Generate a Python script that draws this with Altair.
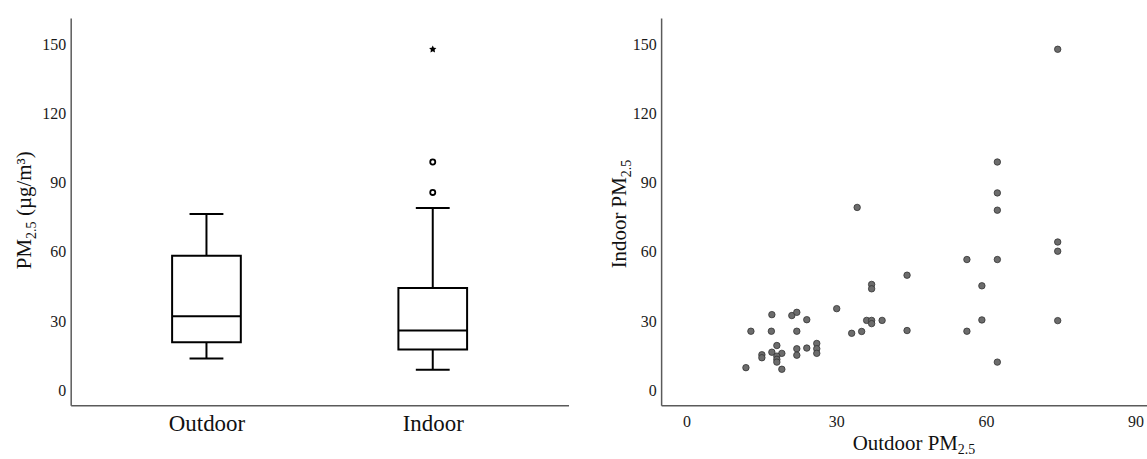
import altair as alt
import pandas as pd

FONT = "Liberation Serif"

# ---- Box plot summary ----
groups = ["Outdoor", "Indoor"]
box_lower = [13.8, 8.9]
box_q1 = [20.8, 17.7]
box_median = [32.1, 25.9]
box_q3 = [58.3, 44.3]
box_upper = [76.5, 79.1]

outlier_group = ["Indoor", "Indoor"]
outlier_value = [85.8, 99.0]
extreme_group = ["Indoor"]
extreme_value = [147.9]

# ---- Scatter: outdoor vs indoor PM2.5 ----
outdoor_pm = [17.1, 21.1, 22.1, 24.1, 12.9, 17.0, 22.1, 18.1, 17.1, 19.1,
              15.1, 15.1, 18.1, 18.1, 18.1, 22.1, 22.1, 24.1, 26.1, 26.1,
              26.1, 11.9, 19.1, 34.2, 44.2, 37.1, 37.1, 30.1, 36.1, 37.1,
              37.1, 39.2, 33.1, 35.1, 44.2, 62.3, 62.3, 62.3, 56.2, 62.3,
              59.2, 59.2, 56.2, 62.3, 74.4, 74.4, 74.4, 74.4]
indoor_pm = [32.8, 32.4, 33.8, 30.6, 25.6, 25.6, 25.6, 19.4, 16.5, 16.0,
             15.4, 14.1, 14.8, 13.4, 12.2, 18.0, 15.2, 18.3, 20.3, 18.0,
             16.0, 9.8, 9.1, 79.3, 49.9, 45.9, 44.0, 35.4, 30.3, 30.3,
             28.9, 30.3, 24.7, 25.5, 25.9, 99.0, 85.6, 78.1, 56.7, 56.7,
             45.3, 30.5, 25.6, 12.2, 147.9, 64.3, 60.3, 30.2]

y_ticks = [0, 30, 60, 90, 120, 150]
x_ticks = [0, 30, 60, 90]

box_df = pd.DataFrame({"group": groups, "lower": box_lower, "q1": box_q1,
                       "median": box_median, "q3": box_q3, "upper": box_upper})
out_df = pd.DataFrame({"group": outlier_group, "value": outlier_value})
ext_df = pd.DataFrame({"group": extreme_group, "value": extreme_value})
sc_df = pd.DataFrame({"outdoor": outdoor_pm, "indoor": indoor_pm})
one = pd.DataFrame({"a": [0]})

W1, W2, H = 500, 488, 389
YDOM = [-6.5, 161.5]

STAR = ("M0,-1L0.29,-0.4L0.95,-0.31L0.48,0.15L0.59,0.81L0,0.5L-0.59,0.81"
        "L-0.48,0.15L-0.95,-0.31L-0.29,-0.4Z")

y_axis = alt.Axis(values=y_ticks, grid=False, ticks=False, title=None,
                  labelFontSize=16, labelPadding=5, labelColor="#1a1a1a",
                  domainColor="#5a5a5a", domainWidth=1.5)
x_cat = alt.X("group:N", sort=groups,
              scale=alt.Scale(type="point", padding=0.6),
              axis=alt.Axis(title=None, labelFontSize=23, ticks=False,
                            labelPadding=7, labelAngle=0, labelColor="#111",
                            domainColor="#5a5a5a", domainWidth=1.5))
yscale = alt.Scale(domain=YDOM, nice=False, zero=False)

whisk_lo = alt.Chart(box_df).mark_rule(color="black", strokeWidth=2).encode(
    x=x_cat, y=alt.Y("lower:Q", scale=yscale, axis=y_axis), y2="q1:Q")
whisk_hi = alt.Chart(box_df).mark_rule(color="black", strokeWidth=2).encode(
    x=x_cat, y=alt.Y("q3:Q", scale=yscale, axis=y_axis), y2="upper:Q")
box = alt.Chart(box_df).mark_bar(size=69, fill="white", stroke="black",
                                 strokeWidth=2).encode(
    x=x_cat, y=alt.Y("q1:Q", scale=yscale, axis=y_axis), y2="q3:Q")
med = alt.Chart(box_df).mark_tick(size=69, thickness=2, color="black",
                                  opacity=1).encode(
    x=x_cat, y=alt.Y("median:Q", scale=yscale, axis=y_axis))
cap_lo = alt.Chart(box_df).mark_tick(size=34, thickness=2, color="black",
                                     opacity=1).encode(
    x=x_cat, y=alt.Y("lower:Q", scale=yscale, axis=y_axis))
cap_hi = alt.Chart(box_df).mark_tick(size=34, thickness=2, color="black",
                                     opacity=1).encode(
    x=x_cat, y=alt.Y("upper:Q", scale=yscale, axis=y_axis))
outl = alt.Chart(out_df).mark_point(shape="circle", filled=False, size=26,
                                    strokeWidth=1.8, color="black",
                                    opacity=1).encode(
    x=x_cat, y=alt.Y("value:Q", scale=yscale, axis=y_axis))
ext = alt.Chart(ext_df).mark_point(shape=STAR, filled=True, size=60,
                                   color="black", opacity=1).encode(
    x=x_cat, y=alt.Y("value:Q", scale=yscale, axis=y_axis))

def txt(s, x, y, size=21, angle=0, align="left", dy=0):
    return alt.Chart(one).mark_text(text=s, font=FONT, fontSize=size,
                                    angle=angle, align=align,
                                    baseline="alphabetic", dy=dy,
                                    color="#111").encode(
        x=alt.value(x), y=alt.value(y))

# left y title: PM_2.5 (µg/m³)
ya = 222
lt = [txt("PM", -40, ya, angle=270, align="right"),
      txt("2.5", -40, ya, size=14, angle=270, align="left", dy=5),
      txt("(µg/m³)", -40, ya - 23, angle=270, align="left")]

left = alt.layer(whisk_lo, whisk_hi, box, med, cap_lo, cap_hi, outl, ext,
                 *lt).properties(width=W1, height=H)

# right panel
xs = alt.X("outdoor:Q", scale=alt.Scale(domain=[-5.1, 92.3], nice=False, zero=False),
           axis=alt.Axis(values=x_ticks, grid=False, ticks=False, title=None,
                         labelFontSize=16, labelPadding=8, labelColor="#1a1a1a",
                         domainColor="#5a5a5a", domainWidth=1.5))
pts = alt.Chart(sc_df).mark_circle(size=42, fill="#6c6c6c", stroke="#333333",
                                   strokeWidth=0.8, opacity=1).encode(
    x=xs, y=alt.Y("indoor:Q", scale=yscale, axis=y_axis))

yb = 160
rt = [txt("Indoor PM", -35, yb, angle=270, align="right"),
      txt("2.5", -35, yb, size=14, angle=270, align="left", dy=5)]
xa = 298
bt = [txt("Outdoor PM", xa, 434, align="right"),
      txt("2.5", xa, 434, size=14, align="left", dy=4)]

right = alt.layer(pts, *rt, *bt).properties(width=W2, height=H)

chart = alt.hconcat(left, right, spacing=41).properties(
    padding={"left": 14, "top": 17, "right": 0, "bottom": 0}
).configure_view(stroke=None).configure_axis(labelFont=FONT)

chart.save("out.html", embed_options={"renderer": "svg", "actions": False})
